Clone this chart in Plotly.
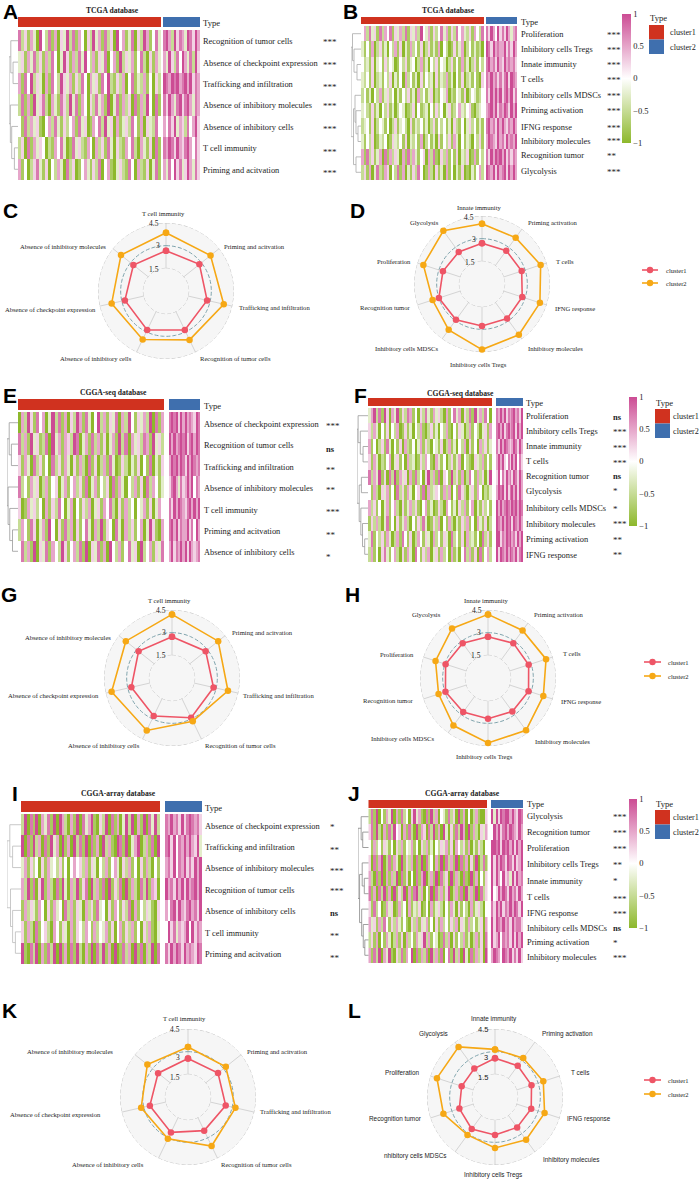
import plotly.graph_objects as go

W, H = 699, 1181
SERIF = "Liberation Serif"
SANS = "Liberation Sans"
COLORSCALE = [[0, "#8DB82B"], [0.5, "#FFFFFF"], [1, "#CC4C94"]]
RED, BLUE = "#D0321F", "#3F6FAE"
C1, C2 = "#EE5566", "#F6A815"
TXT = "#1c1c1c"

# ---------- row names ----------
rows_A = ["Recognition of tumor cells", "Absence of checkpoint expression", "Trafficking and infiltration",
          "Absence of inhibitory molecules", "Absence of inhibitory cells", "T cell immunity", "Priming and acitvation"]
rows_B = ["Proliferation", "Inhibitory cells Tregs", "Innate immunity", "T cells", "Inhibitory cells MDSCs",
          "Priming activation", "IFNG response", "Inhibitory molecules", "Recognition tumor", "Glycolysis"]
rows_E = ["Absence of checkpoint expression", "Recognition of tumor cells", "Trafficking and infiltration",
          "Absence of inhibitory molecules", "T cell immunity", "Priming and acitvation", "Absence of inhibitory cells"]
rows_F = ["Proliferation", "Inhibitory cells Tregs", "Innate immunity", "T cells", "Recognition tumor", "Glycolysis",
          "Inhibitory cells MDSCs", "Inhibitory molecules", "Priming activation", "IFNG response"]
rows_I = ["Absence of checkpoint expression", "Trafficking and infiltration", "Absence of inhibitory molecules",
          "Recognition of tumor cells", "Absence of inhibitory cells", "T cell immunity", "Priming and acitvation"]
rows_J = ["Glycolysis", "Recognition tumor", "Proliferation", "Inhibitory cells Tregs", "Innate immunity", "T cells",
          "IFNG response", "Inhibitory cells MDSCs", "Priming activation", "Inhibitory molecules"]

stars_A = ["***"] * 7
stars_B = ["***"] * 8 + ["**", "***"]
stars_E = ["***", "ns", "**", "**", "***", "**", "*"]
stars_F = ["ns", "***", "***", "***", "ns", "*", "*", "***", "**", "**"]
stars_I = ["*", "**", "***", "***", "ns", "**", "**"]
stars_J = ["***", "***", "***", "**", "*", "***", "***", "ns", "*", "***"]

# ---------- heatmap cells, coded 0 (-1) .. 4 (0) .. 8 (+1), read per stripe: cluster1 | cluster2 ----------
heat_A = [
 "72516308 42716053 82716405 28361725 08461370 52861473 | 7862857 6387586",
 "35163725 16274038 51627384 26153704 61825361 47205163 | 6385274 8637285",
 "61748253 06174285 36152740 63517482 15260471 32614052 | 8768786 7868576",
 "27161835 72063175 28371640 52736180 37162507 16284071 | 7586378 5786376",
 "41726351 04627315 24617350 16472835 06135274 16053274 | 6475836 5274685",
 "25071635 40216473 01735216 40625173 05216472 06315071 | 7687586 5786475",
 "61402573 15042630 72501463 15270461 03521740 62150371 | 6374857 3586375",
]
heat_B = [
 "46273517 26471536 27153628 43615247 36152746 32516427 | 7586485 7586367",
 "31416025 13042615 03162415 02513160 42015136 02413120 | 8758676 6857586",
 "42315034 15243014 25134026 13042514 30251416 13025142 | 7867586 5867675",
 "32415023 14250314 06241305 14230513 26130415 02314105 | 7686757 5785876",
 "24130426 13524031 42513062 41350214 36021431 50243124 | 7586868 5786857",
 "34215130 42513024 30125041 23041524 03512463 24510234 | 6786857 6875868",
 "23415024 31402513 42051324 13025142 41305214 03524131 | 7867586 8657686",
 "31425013 24015324 15032416 02413051 42516304 13204251 | 6876586 7586768",
 "61725136 07162530 61726314 50627105 26141503 25016142 | 7586878 6857576",
 "25160372 16504271 60315274 01620513 06140315 01031462 | 8768586 7858686",
]
heat_E = [
 "06285174 60382716 05286173 04826153 70628415 36280716 | 7878586 8676587",
 "72618351 27083616 52870361 72615036 18270635 27618352 | 8686787 8578687",
 "51630725 14072516 30516207 15026173 01520315 04170315 | 6878687 5868767",
 "72416350 26145036 14625170 36142507 16304261 50726413 | 5786375 6868476",
 "50163524 06152740 36041526 03516472 05162404 36150364 | 7586876 5786868",
 "26417503 61840517 26051473 06281540 73062514 60385106 | 7868576 6857486",
 "47261805 37164285 14627180 53716084 26147350 82461537 | 6857686 8586567",
]
heat_F = [
 "36827185 06381527 61405273 16352061 47360527 18362740 | 7686857 6786758",
 "52630415 04260151 30426102 51304261 04153026 14203516 | 7868578 6785868",
 "61402517 30415062 14036152 04315026 13042605 14062513 | 7586876 5687586",
 "51630214 60351406 23015264 10631402 51360421 05326141 | 6868547 5868475",
 "72638150 72816350 61724058 26170541 82516027 41625038 | 5847586 7587586",
 "41620536 14072516 30451706 23541626 04175203 51640213 | 6878585 7868586",
 "62514036 14620513 62510461 30152064 13052614 60315241 | 8686787 6878687",
 "15262037 14051362 04152730 15260416 20315261 40631502 | 8768687 8587686",
 "37142516 30261741 50264153 06241530 72415062 31407251 | 8857687 8675868",
 "26140573 14620516 30741526 03516240 61304726 15071462 | 8587686 8768578",
]
heat_I = [
 "28071806 37180862 06180736 81052807 16038280 61807382 | 7686758 5787675",
 "80718260 71836081 60827180 71608261 08718036 80261708 | 7858476 8686583",
 "36152405 16342514 04645261 53042614 63052614 05162041 | 6758476 8575868",
 "62817058 16207183 06281570 82617081 52708162 07281650 | 8675868 5867868",
 "16253164 05163407 26153062 51734051 64152706 14253105 | 6478586 5786758",
 "51620714 52064153 06154264 16243615 04615261 40526103 | 4857365 6848576",
 "81072806 17280816 07182061 80728160 80172608 17062807 | 7586875 8676587",
]
heat_J = [
 "27180416 38061724 05836107 18260431 72508160 40261005 | 8385878 8686587",
 "57182061 72845061 72081650 72816083 05172860 81620536 | 4868578 6876586",
 "41624153 14052614 36140526 13042536 15064251 60315204 | 8878587 8685868",
 "50716802 71630815 26071807 24061807 26180716 05180271 | 8586875 8758568",
 "62071806 16280715 04071680 26180725 08162071 08160415 | 8586485 6385867",
 "71607281 60815280 61782604 18072615 80261708 26180725 | 8458687 5867586",
 "51724016 35016240 61325014 06135204 16305142 06135204 | 7586857 6868758",
 "63516274 15263141 05261536 14051624 15260531 62413506 | 8587686 7586775",
 "25160416 30261506 24163582 61430172 60514261 30261507 | 8568476 7585868",
 "61728063 81052716 48071627 08261704 71826083 07162508 | 6876487 6857585",
]

# ---------- dendrograms: (height, left, right), leaf = row index ----------
tree_A = (1.0, (0.8, 0, (0.55, 1, 2)), (0.85, 3, (0.7, 4, (0.4, 5, 6))))
tree_B = (1.0, (0.85, 0, (0.7, 1, (0.4, 2, 3))), (0.75, (0.6, 4, (0.5, 5, (0.3, 6, 7))), (0.5, 8, 9)))
tree_E = (1.0, (0.8, 0, (0.6, 1, 2)), (0.9, 3, (0.75, 4, (0.5, 5, 6))))
tree_F = (1.0, (0.9, 0, (0.7, 1, (0.45, 2, 3))), (0.8, (0.6, 4, 5), (0.65, 6, (0.5, 7, (0.3, 8, 9)))))
tree_I = (1.0, (0.8, 0, (0.6, 1, 2)), (0.75, 3, (0.6, 4, (0.4, 5, 6))))
tree_J = (1.0, (0.7, 0, (0.55, 1, 2)), (0.85, (0.6, 3, (0.4, 4, 5)), (0.65, 6, (0.5, 7, (0.35, 8, 9)))))

# ---------- radar axes and values ----------
axes7 = ["T cell immunity", "Priming and acitvation", "Trafficking and infiltration", "Recognition of tumor cells",
         "Absence of inhibitory cells", "Absence of checkpoint expression", "Absence of inhibitory molecules"]
axes10 = ["Innate immunity", "Priming activation", "T cells", "IFNG response", "Inhibitory molecules",
          "Inhibitory cells Tregs", "Inhibitory cells MDSCs", "Recognition tumor", "Proliferation", "Glycolysis"]
axes10_L = axes10[:6] + ["nhibitory cells MDSCs"] + axes10[7:]
radial_ticks = [1.5, 3, 4.5]

C_c1 = [2.67, 2.83, 2.79, 2.87, 2.87, 2.79, 2.76]
C_c2 = [3.86, 3.77, 3.92, 3.59, 3.56, 3.69, 3.81]
D_c1 = [2.70, 2.73, 2.76, 2.80, 2.83, 2.78, 2.93, 3.00, 2.72, 2.62]
D_c2 = [3.99, 3.79, 4.08, 4.03, 4.15, 4.34, 3.75, 3.44, 4.08, 4.35]
G_c1 = [2.73, 2.85, 2.82, 2.92, 2.79, 2.76, 2.83]
G_c2 = [4.21, 3.91, 3.80, 3.17, 3.85, 4.10, 3.91]
H_c1 = [2.73, 2.85, 2.83, 2.82, 2.74, 2.69, 2.79, 2.96, 2.95, 2.85]
H_c2 = [4.21, 3.89, 4.04, 3.85, 4.28, 4.30, 3.89, 3.44, 3.65, 4.05]
K_c1 = [2.55, 2.54, 2.56, 2.47, 2.60, 2.59, 2.53]
K_c2 = [3.31, 3.20, 3.22, 3.60, 3.07, 3.18, 3.44]
L_c1 = [2.56, 2.56, 2.54, 2.52, 2.49, 2.51, 2.62, 2.48, 2.32, 2.33]
L_c2 = [3.15, 3.18, 3.36, 3.45, 3.50, 3.37, 3.10, 3.59, 4.04, 4.10]

colorbar_ticks = [-1, -0.5, 0, 0.5, 1]
colorbar_text = ["\u22121", "\u22120.5", "0", "0.5", "1"]

# ---------- layout of the panels (pixels) ----------
heat_panels = [
 dict(rows=rows_A, stars=stars_A, heat=heat_A, tree=tree_A, title="TCGA database", tx=112, ty=10, dl=9, c1=(18, 161), c2=(163, 200),
      bar=(17, 27), hy=(30, 180), lx=202, sx=322, ty2=23, dc="#aaaaaa", ln=[1]*7,
      sn=[0, 1.3, 1.7, 0, .7, 2.3, 2]),
 dict(rows=rows_B, stars=stars_B, heat=heat_B, tree=tree_B, title="TCGA database", tx=448, ty=11, dl=351, c1=(361, 484), c2=(486, 517),
      bar=(17, 24), hy=(26, 180), lx=520, sx=606, ty2=22, dc="#aaaaaa", ln=[1, .3, 0, -.7, .3, .3, 1, -.5, -1, -1],
      sn=[0, -.7, -1, -1, -.7, -1, 0, -2.5, -2, -2.3], cb=(622, 631, 14, 143), leg=(649, 25, 18, 669)),
 dict(rows=rows_E, stars=stars_E, heat=heat_E, tree=tree_E, title="CGGA-seq database", tx=113, ty=392, dl=7, c1=(18, 164), c2=(169, 200),
      bar=(399, 410), hy=(412, 562), lx=203, sx=325, ty2=406, dc="#999999", ln=[1.7]*7,
      sn=[1.7, 5.3, 3, 1.7, 2.3, 3.7, 4]),
 dict(rows=rows_F, stars=stars_F, heat=heat_F, tree=tree_F, title="CGGA-seq database", tx=460, ty=393, dl=357, c1=(368, 492), c2=(496, 523),
      bar=(398, 406), hy=(408, 562), lx=525, sx=612, ty2=403, dc="#999999", ln=[1, .3, 0, -.7, -1.3, -1.7, .3, 1, 1, .7],
      sn=[1.7, -.3, -.3, -.7, -1.3, -3.3, -.7, -.7, 0, -.7], cb=(629, 637, 397, 526), leg=(655, 409, 403, 672)),
 dict(rows=rows_I, stars=stars_I, heat=heat_I, tree=tree_I, title="CGGA-array database", tx=119, ty=794, dl=7, c1=(21, 160), c2=(165, 202),
      bar=(801, 812), hy=(814, 964), lx=204, sx=329, ty2=808, dc="#bbbbbb", ln=[1.3]*7,
      sn=[.3, 2.3, 2, .3, 2.7, 3, 3]),
 dict(rows=rows_J, stars=stars_J, heat=heat_J, tree=tree_J, title="CGGA-array database", tx=462, ty=793, dl=358, c1=(368.5, 487), c2=(491, 523),
      bar=(800, 808), hy=(809, 963), lx=526, sx=612, ty2=804, dc="#888888", ln=[0, .3, .7, 2, 2.7, 3.7, 4.7, 3.7, 3, 2],
      sn=[-1.7, -.3, .3, .7, 1, 4, 3.3, 3, 1.3, .7], cb=(629, 637, 799, 928), leg=(655, 810, 804, 672)),
]


def z3(ox, oy, pts):
    return [(x / 3 + ox, y / 3 + oy) for x, y in pts]


def zw(oy, pts):
    return [(x / 2.236, y / 3 + oy) for x, y in pts]


radar_panels = [
 dict(axes=axes7, c1=C_c1, c2=C_c2, c=(166, 291), font=SERIF,
      lab=z3(0, 195, [(490, 56), (763, 154), (823, 336), (705, 491), (287, 491), (150, 343), (190, 155)]),
      tick=z3(0, 195, [(463, 222), (473, 153), (463, 87)])),
 dict(axes=axes10, c1=D_c1, c2=D_c2, c=(482, 284), font=SERIF,
      lab=z3(350, 195, [(388, 37), (609, 81), (646, 199), (674, 341), (617, 461), (385, 507), (168, 461), (104, 337), (131, 199), (222, 81)]),
      tick=z3(350, 195, [(360, 203), (372, 133), (358, 67)]), leg=(642, 658, 270, 283, 665)),
 dict(axes=axes7, c1=G_c1, c2=G_c2, c=(172, 678), font=SERIF,
      lab=zw(580, [(380, 60), (588, 156), (623, 347), (537, 496), (232, 496), (120, 347), (152, 171)]),
      tick=zw(580, [(359, 227), (366, 158), (361, 90)])),
 dict(axes=axes10, c1=H_c1, c2=H_c2, c=(488, 678), font=SERIF,
      lab=zw(580, [(1086, 60), (1251, 104), (1279, 221), (1299, 365), (1258, 485), (1084, 530), (901, 475), (867, 360), (888, 222), (953, 104)]),
      tick=zw(580, [(1065, 227), (1071, 158), (1066, 90)]), leg=(644, 661, 662, 676, 667)),
 dict(axes=axes7, c1=K_c1, c2=K_c2, c=(188, 1097), font=SERIF,
      lab=zw(981, [(412, 114), (620, 212), (660, 391), (573, 550), (241, 550), (123, 401), (156, 212)]),
      tick=zw(981, [(391, 288), (398, 228), (392, 145)])),
 dict(axes=axes10_L, c1=L_c1, c2=L_c2, c=(495, 1097), font=SANS,
      lab=zw(981, [(1104, 114), (1269, 158), (1296, 275), (1316, 413), (1277, 538), (1103, 583), (930, 524), (884, 413), (900, 275), (970, 158)]),
      tick=zw(981, [(1080, 288), (1086, 228), (1081, 145)]), leg=(644, 661, 1080, 1094, 667)),
]

panel_letters = [("A", 10, 12), ("B", 350, 12), ("C", 10, 210), ("D", 358, 210), ("E", 10, 396), ("F", 360, 396),
                 ("G", 9, 595), ("H", 353, 595), ("I", 15, 793), ("J", 354, 793), ("K", 9, 1010), ("L", 354, 1010)]

px = lambda x: x / W
py = lambda y: 1 - y / H

fig = go.Figure()
annotations, shapes, layout = [], [], {}


def text(x, y, s, size, font=SERIF, color=TXT, anchor="center", bold=False):
    annotations.append(dict(x=px(x), y=py(y), xref="paper", yref="paper", text=f"<b>{s}</b>" if bold else s,
                            showarrow=False, xanchor=anchor, yanchor="middle",
                            font=dict(family=font, size=size, color=color), borderpad=0))


def parse(rows):
    z1, z2 = [], []
    for r in rows:
        a, b = r.split("|")
        z1.append([(int(c) - 4) / 4 for c in a.replace(" ", "")])
        z2.append([(int(c) - 4) / 4 for c in b.replace(" ", "")])
    return z1, z2


def dendro(node, height_to_x, xs, ys):
    if isinstance(node, int):
        return height_to_x(0), node
    h, left, right = node
    xa, ya = dendro(left, height_to_x, xs, ys)
    xb, yb = dendro(right, height_to_x, xs, ys)
    xn = height_to_x(h)
    xs += [xa, xn, xn, xb, None]
    ys += [ya, ya, yb, yb, None]
    return xn, (ya + yb) / 2


for i, p in enumerate(heat_panels):
    idx = i + 1
    suf = "" if idx == 1 else str(idx)
    n = len(p["rows"])
    z1, z2 = parse(p["heat"])
    rowh = (p["hy"][1] - p["hy"][0]) / n
    extra = (p["hy"][0] - p["bar"][0]) / rowh
    xname, yname = f"x{suf}", f"y{suf}"
    xend = p["sx"] + 14
    layout[f"xaxis{suf}"] = dict(domain=[px(p["dl"]), px(xend)], range=[p["dl"], xend], visible=False,
                                 anchor=yname, fixedrange=True)
    layout[f"yaxis{suf}"] = dict(domain=[py(p["hy"][1]), py(p["bar"][0])], range=[n - 0.5, -0.5 - extra], visible=False,
                                 anchor=xname, fixedrange=True)
    for (xl, xr), z, with_cb in ((p["c1"], z1, "cb" in p), (p["c2"], z2, False)):
        dx = (xr - xl) / len(z[0])
        tr = dict(z=z, x0=xl + dx / 2, dx=dx, y0=0, dy=1, colorscale=COLORSCALE, zmin=-1, zmax=1, showscale=with_cb,
                  xaxis=xname, yaxis=yname, hoverinfo="skip")
        if with_cb:
            a, b, t, bt = p["cb"]
            tr["colorbar"] = dict(x=px(a), xanchor="left", xpad=0, ypad=0, y=py(t), yanchor="top",
                                  len=(bt - t) / H, lenmode="fraction", thickness=b - a, thicknessmode="pixels",
                                  tickvals=colorbar_ticks, ticktext=colorbar_text, ticks="", outlinewidth=0,
                                  tickfont=dict(family=SERIF, size=8.5, color=TXT))
        fig.add_trace(go.Heatmap(**tr))
    # dendrogram
    xs, ys = [], []
    dendro(p["tree"], lambda h: p["c1"][0] - h * (p["c1"][0] - p["dl"]), xs, ys)
    fig.add_trace(go.Scatter(x=xs, y=ys, mode="lines", line=dict(color=p["dc"], width=0.8), xaxis=xname, yaxis=yname,
                             hoverinfo="skip", showlegend=False))
    # Type bar
    y0 = -0.5 - (p["hy"][0] - p["bar"][0]) / rowh
    y1 = -0.5 - (p["hy"][0] - p["bar"][1]) / rowh
    for (xl, xr), col in ((p["c1"], RED), (p["c2"], BLUE)):
        shapes.append(dict(type="rect", xref=xname, yref=yname, x0=xl, x1=xr, y0=y0, y1=y1, fillcolor=col, line_width=0))
    # row text
    for r, (lab, st) in enumerate(zip(p["rows"], p["stars"])):
        annotations.append(dict(x=p["lx"], y=r, xref=xname, yref=yname, text=lab, showarrow=False, xanchor="left",
                                yanchor="middle", yshift=-p["ln"][r], borderpad=0,
                                font=dict(family=SERIF, size=8.4, color=TXT)))
        is_ns = st == "ns"
        annotations.append(dict(x=p["sx"], y=r, xref=xname, yref=yname, text="<b>ns</b>" if is_ns else st, showarrow=False,
                                xanchor="left", yanchor="middle", yshift=-p["sn"][r] - (0 if is_ns else 1.5), borderpad=0,
                                font=dict(family=SERIF, size=8.5 if is_ns else 9, color=TXT)))
    text(p["tx"], p["ty"], p["title"], 7.6, bold=True)
    text(p["lx"], p["ty2"], "Type", 8.6, anchor="left")
    if "leg" in p:
        lx, ly, lt, ltx = p["leg"]
        text(lx, lt, "Type", 8.6, anchor="left")
        shapes.append(dict(type="rect", xref="paper", yref="paper", x0=px(lx), x1=px(lx + 15), y0=py(ly), y1=py(ly + 14.5),
                           fillcolor=RED, line_width=0))
        shapes.append(dict(type="rect", xref="paper", yref="paper", x0=px(lx), x1=px(lx + 15), y0=py(ly + 14.5), y1=py(ly + 29),
                           fillcolor=BLUE, line_width=0))
        text(ltx, ly + 7.5, "cluster1", 8.2, anchor="left")
        text(ltx, ly + 22.5, "cluster2", 8.2, anchor="left")

RAD = 68
for i, p in enumerate(radar_panels):
    sp = "polar" if i == 0 else f"polar{i + 1}"
    cx, cy = p["c"]
    n = len(p["axes"])
    th = [k * 360 / n for k in range(n)]
    layout[sp] = dict(domain=dict(x=[px(cx - RAD), px(cx + RAD)], y=[py(cy + RAD), py(cy - RAD)]),
                      bgcolor="#F6F6F6", hole=1 / 3,
                      radialaxis=dict(range=[1.5, 4.5], showgrid=False, showticklabels=False, showline=False, ticks=""),
                      angularaxis=dict(direction="clockwise", rotation=90, thetaunit="degrees", tickmode="array", tickvals=th,
                                       showticklabels=False, ticks="", showline=False, gridcolor="#D4D4D4", gridwidth=1))
    # inner disc shares the panel fill
    rin = RAD / 3
    shapes.append(dict(type="circle", xref="paper", yref="paper", x0=px(cx - rin), x1=px(cx + rin), y0=py(cy + rin), y1=py(cy - rin),
                       fillcolor="#F6F6F6", line_width=0, layer="below"))
    ring_theta = list(range(0, 361, 3))
    for rv in radial_ticks:
        fig.add_trace(go.Scatterpolar(r=[rv] * len(ring_theta), theta=ring_theta, mode="lines", subplot=sp, hoverinfo="skip",
                                      showlegend=False, cliponaxis=False,
                                      line=dict(color="#7FA3AC" if rv == 3 else "#C4C4C4", width=1, dash="4px,2px")))
    for vals, col in ((p["c1"], C1), (p["c2"], C2)):
        fig.add_trace(go.Scatterpolar(r=vals + vals[:1], theta=th + th[:1], mode="lines+markers", subplot=sp, hoverinfo="skip",
                                      showlegend=False, line=dict(color=col, width=1.6), marker=dict(color=col, size=6.5)))
    fs = 6.4 if p["font"] == SANS else 6.6
    for lab, (x, y) in zip(p["axes"], p["lab"]):
        text(x, y, lab, fs, font=p["font"])
    for tv, (x, y) in zip(radial_ticks, p["tick"]):
        text(x, y, str(tv), 7.5, font=p["font"])
    if "leg" in p:
        x0, x1, y1, y2, tx = p["leg"]
        for y, col, lab in ((y1, C1, "cluster1"), (y2, C2, "cluster2")):
            shapes.append(dict(type="line", xref="paper", yref="paper", x0=px(x0), x1=px(x1), y0=py(y), y1=py(y), line=dict(color=col, width=1.6)))
            xc = (x0 + x1) / 2
            shapes.append(dict(type="circle", xref="paper", yref="paper", x0=px(xc - 3.2), x1=px(xc + 3.2), y0=py(y + 3.2), y1=py(y - 3.2),
                               fillcolor=col, line_width=0))
            text(tx, y, lab, 6.5, anchor="left")

for s, x, y in panel_letters:
    text(x, y, s, 21, font=SANS, color="#000000", bold=True)

fig.update_layout(width=W, height=H, margin=dict(l=0, r=0, t=0, b=0), paper_bgcolor="white", plot_bgcolor="white",
                  showlegend=False, annotations=annotations, shapes=shapes, **layout)
fig.write_html("out.html", config=dict(displayModeBar=False),
               post_script="document.body.style.margin='0';document.body.style.overflow='hidden';")
